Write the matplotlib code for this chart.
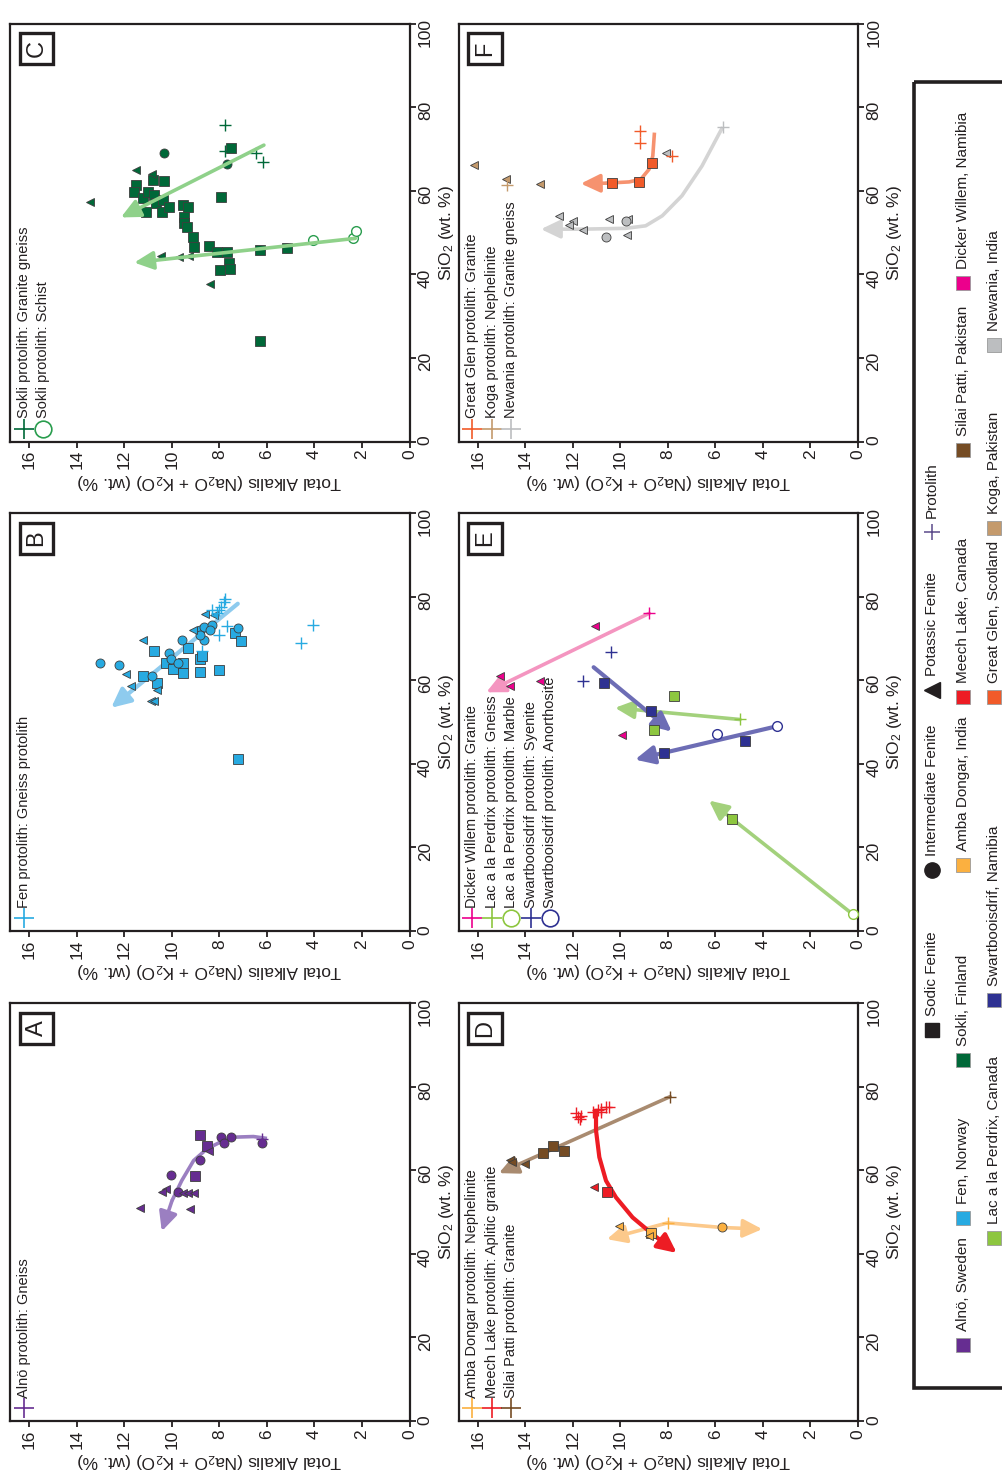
import numpy as np
import matplotlib
matplotlib.use("Agg")
import matplotlib.pyplot as plt
from matplotlib.patches import Rectangle

plt.rcParams['font.family'] = ['Liberation Sans', 'DejaVu Sans']
plt.rcParams['mathtext.fontset'] = 'custom'
plt.rcParams['mathtext.rm'] = 'Liberation Sans'
plt.rcParams['mathtext.it'] = 'Liberation Sans:italic'
plt.rcParams['mathtext.bf'] = 'Liberation Sans:bold'

# (total alkalis, SiO2) pairs
# A - Alno
alno_sodic = [(8.84, 68.5), (8.53, 65.7), (9.02, 58.7)]
alno_inter = [(7.94, 68.0), (7.52, 68.0), (7.83, 66.5), (6.22, 66.6), (8.84, 62.5), (10.05, 58.9), (9.75, 54.9)]
alno_potassic = [(8.44, 64.5), (11.34, 51.0), (9.24, 50.7), (10.26, 55.4), (10.44, 54.7), (9.54, 54.6), (9.33, 54.6), (9.07, 54.6)]
alno_protolith = [(6.19, 67.5)]
alno_trend = [(6.0, 67.6), (6.57, 68.05), (7.41, 67.9), (7.97, 66.7), (8.53, 65.1), (9.09, 62.3), (9.59, 57.5), (10.0, 52.7), (10.43, 45.4)]

# B - Fen
fen_sodic = [(10.74, 67.0), (11.23, 61.1), (10.64, 59.3), (10.26, 64.1), (9.94, 62.7), (9.54, 64.1), (9.54, 61.7), (9.31, 67.7),
             (8.84, 62.0), (8.81, 65.1), (8.74, 65.9), (8.01, 62.5), (7.33, 71.2), (7.10, 69.3), (7.21, 41.1)]
fen_inter = [(13.05, 64.2), (12.21, 63.7), (10.85, 61.1), (10.12, 66.5), (10.04, 65.1), (9.73, 64.1), (9.59, 69.6), (8.84, 72.0),
             (8.65, 72.8), (8.32, 73.1), (8.39, 71.9), (8.65, 69.5), (8.81, 70.7), (7.24, 72.5)]
fen_potassic = [(11.23, 69.5), (11.94, 61.5), (11.73, 58.5), (10.64, 57.7), (10.89, 55.0), (10.74, 55.0), (9.12, 72.1), (8.62, 75.9), (8.25, 75.5)]
fen_protolith = [(7.76, 79.5), (7.83, 78.7), (7.94, 77.5), (8.04, 76.7), (8.11, 76.0), (8.32, 76.8), (7.69, 72.9), (8.01, 70.7),
                 (8.74, 67.1), (4.58, 68.9), (4.08, 73.2)]
fen_trend = [(7.23, 78.3), (12.56, 53.4)]

# C - Sokli
sokli_sodic = [(11.52, 61.4), (11.61, 59.7), (11.23, 58.2), (11.02, 59.7), (10.77, 59.0), (10.81, 62.6), (10.35, 62.3), (11.10, 54.9),
               (10.68, 57.0), (10.39, 57.8), (10.43, 54.9), (10.13, 56.1), (9.54, 56.6), (9.33, 56.1), (9.50, 53.7), (9.50, 52.3),
               (9.37, 51.3), (9.12, 48.9), (9.08, 46.5), (8.45, 46.8), (8.11, 45.3), (7.69, 45.3), (7.95, 58.5), (7.53, 70.2),
               (7.60, 42.6), (7.57, 41.2), (7.99, 41.0), (6.30, 45.8), (5.15, 46.2), (6.31, 24.1)]
sokli_inter = [(10.34, 68.9), (7.69, 66.3)]
sokli_potassic = [(11.52, 64.9), (10.85, 64.0), (10.47, 44.4), (9.71, 44.2), (9.29, 44.4), (13.44, 57.3), (8.40, 37.6)]
sokli_granite = [(7.77, 75.6), (7.78, 69.6), (6.45, 68.9), (6.16, 66.9)]
sokli_schist = [(4.06, 48.2), (2.38, 48.6), (2.24, 50.4)]
sokli_trend_granite = [(6.13, 70.9), (12.15, 53.6)]
sokli_trend_schist = [(2.28, 48.6), (11.59, 42.8)]

# D - Amba Dongar, Meech Lake, Silai Patti
amba_protolith = [(8.02, 47.4)]
amba_inter = [(5.74, 46.3)]
amba_sodic = [(8.72, 45.0)]
amba_potassic = [(10.05, 46.6), (8.82, 44.3)]
amba_trend_1 = [(8.02, 47.4), (5.74, 46.3), (4.03, 45.9)]
amba_trend_2 = [(8.02, 47.4), (10.57, 43.5)]
meech_protolith = [(11.87, 73.6), (11.80, 72.8), (11.70, 72.3), (11.66, 73.0), (11.17, 73.9), (10.96, 74.3), (10.82, 74.7),
                   (10.61, 75.1), (10.47, 75.1), (10.82, 73.9)]
meech_sodic = [(10.57, 54.9)]
meech_potassic = [(11.13, 55.9)]
meech_trend = [(11.03, 74.7), (11.03, 69.5), (10.89, 63.1), (10.61, 57.5), (10.19, 53.5), (9.49, 48.7), (8.65, 44.7), (7.63, 40.2)]
silai_protolith = [(7.91, 77.6)]
silai_sodic = [(13.27, 64.1), (12.85, 65.9), (12.36, 64.5)]
silai_potassic = [(14.67, 62.5), (14.55, 61.9), (14.04, 61.5)]
silai_trend = [(7.91, 77.6), (15.12, 59.3)]

# E - Dicker Willem, Lac a la Perdrix, Swartbooisdrif
dicker_protolith = [(8.79, 76.0)]
dicker_potassic = [(11.07, 72.9), (15.09, 60.9), (14.67, 58.5), (13.38, 59.9), (9.94, 47.0)]
dicker_trend = [(8.79, 76.0), (15.65, 57.1)]
lac_gneiss = [(4.97, 50.6)]
lac_marble = [(0.22, 4.0)]
lac_sodic = [(7.73, 56.2), (8.59, 48.1), (5.32, 26.8)]
lac_trend_gneiss = [(4.97, 50.6), (10.23, 53.4)]
lac_trend_marble = [(0.22, 4.0), (6.27, 31.2)]
swart_syenite = [(10.40, 66.7), (11.59, 59.7)]
swart_anorthosite = [(3.40, 49.0), (5.92, 47.1)]
swart_sodic = [(10.68, 59.4), (8.72, 52.6), (8.16, 42.7), (4.76, 45.5)]
swart_trend_syenite = [(11.13, 63.1), (7.84, 47.7)]
swart_trend_anorthosite = [(3.40, 49.0), (9.39, 41.0)]

# F - Great Glen, Koga, Newania
glen_protolith = [(9.18, 74.3), (9.18, 71.3), (7.85, 68.3)]
glen_sodic = [(8.69, 66.7), (9.22, 62.2), (10.34, 61.9)]
glen_trend = [(8.57, 73.9), (8.64, 68.3), (8.80, 65.1), (9.15, 62.7), (9.64, 62.1), (10.62, 61.8), (11.67, 61.7)]
koga_protolith = [(14.76, 61.4)]
koga_potassic = [(16.15, 66.2), (14.81, 62.7), (13.39, 61.5)]
newania_protolith = [(5.70, 75.2)]
newania_potassic = [(8.10, 69.1), (12.60, 54.0), (12.02, 52.8), (12.16, 51.9), (11.57, 50.6), (10.48, 53.2), (9.68, 53.2), (9.71, 49.5)]
newania_inter = [(10.59, 49.0), (9.78, 52.8)]
newania_trend = [(5.70, 75.2), (6.57, 65.9), (7.41, 58.8), (8.24, 54.0), (8.94, 51.6), (9.78, 51.0), (11.60, 50.8), (13.35, 50.8)]

alk_ticks = list(range(0, 17, 2))
si_ticks = list(range(0, 101, 20))

# colours
purple, purple_l = '#662d91', '#9b7fc1'
fen, fen_l = '#27aae1', '#8ecbee'
sokli, sokli_l, sokli_o = '#006838', '#8fd18a', '#2a9d4e'
amba, amba_l = '#fbb040', '#fcc98b'
meech = '#ed1c24'
silai, silai_l = '#754c24', '#a98b70'
dicker, dicker_l = '#ec008c', '#f495c0'
lac, lac_l = '#8dc63f', '#a3d17c'
swart, swart_l = '#2e3192', '#6d6db5'
glen, glen_l = '#f15a29', '#f6926f'
koga = '#c49a6c'
newania, newania_l = '#bcbec0', '#d4d4d4'
black = '#231f20'
edge = '#3d3d3d'

W, H = 1002, 1475
fig = plt.figure(figsize=(W / 100, H / 100), dpi=100)


def rect(left, top, w=399.5, h=418):
    return [left / W, 1 - (top + h) / H, w / W, h / H]


def pts(ax, data, marker, color, ms=6.5, z=3):
    d = np.array(data)
    ax.plot(d[:, 0], d[:, 1], ls='none', marker=marker, ms=ms, mfc=color, mec=edge, mew=0.6, zorder=z)


def plus(ax, data, color, ms=9):
    d = np.array(data)
    ax.plot(d[:, 0], d[:, 1], ls='none', marker='+', ms=ms, mew=1.0, color=color, zorder=3)


def ring(ax, data, color, ms=7):
    d = np.array(data)
    ax.plot(d[:, 0], d[:, 1], ls='none', marker='o', ms=ms, mfc='white', mec=color, mew=1.0, zorder=3)


def trend(ax, data, color, lw=2.6, z=2):
    d = np.array(data)
    if len(d) > 2:
        ax.plot(d[:-1, 0], d[:-1, 1], color=color, lw=lw, solid_capstyle='butt', solid_joinstyle='round', zorder=z)
    ax.annotate('', xy=d[-1], xytext=d[-2],
                arrowprops=dict(arrowstyle='-|>,head_length=1.15,head_width=0.55', color=color, lw=lw,
                                shrinkA=0, shrinkB=0, mutation_scale=10), zorder=z)


def setup(ax, letter, entries):
    ax.set_xlim(16.82, 0)
    ax.set_ylim(0, 100)
    ax.set_xticks(alk_ticks)
    ax.set_yticks(si_ticks)
    ax.yaxis.tick_right()
    ax.yaxis.set_label_position('right')
    ax.tick_params(axis='both', direction='out', length=4, width=1.3, labelsize=12.5, pad=2, colors=black)
    ax.tick_params(axis='x', labelrotation=90)
    ax.tick_params(axis='y', labelrotation=90)
    for s in ax.spines.values():
        s.set_linewidth(1.6)
        s.set_color(black)
    ax.set_xlabel(r'Total Alkalis (Na$_2$O + K$_2$O) (wt. %)', rotation=180, fontsize=12.5, labelpad=2, color=black)
    ax.set_ylabel(r'SiO$_2$ (wt. %)', rotation=90, fontsize=12.5, labelpad=3, color=black)
    ax.add_patch(Rectangle((0.025, 0.902), 0.083, 0.075, transform=ax.transAxes, fill=False, lw=2.4,
                           edgecolor=black, zorder=5))
    ax.text(0.0665, 0.9395, letter, transform=ax.transAxes, rotation=90, ha='center', va='center',
            fontsize=17, color=black)
    for i, (label, marker, color) in enumerate(entries):
        x = 0.034 + i * 0.049
        if marker == '+':
            ax.plot([x], [0.031], marker='+', ms=14, mew=1.2, color=color, transform=ax.transAxes, clip_on=False)
        else:
            ax.plot([x], [0.031], marker='o', ms=12, mfc='none', mec=color, mew=1.2, transform=ax.transAxes,
                    clip_on=False)
        ax.text(x, 0.056, label, transform=ax.transAxes, rotation=90, ha='center', va='bottom',
                fontsize=10.5, color=black)


axA = fig.add_axes(rect(10, 1003))
axB = fig.add_axes(rect(10, 513))
axC = fig.add_axes(rect(10, 23.5))
axD = fig.add_axes(rect(458.5, 1003))
axE = fig.add_axes(rect(458.5, 513))
axF = fig.add_axes(rect(458.5, 23.5))

# A
trend(axA, alno_trend, purple_l)
pts(axA, alno_sodic, 's', purple)
pts(axA, alno_inter, 'o', purple)
pts(axA, alno_potassic, '<', purple, ms=6)
plus(axA, alno_protolith, purple)
setup(axA, 'A', [('Alnö protolith: Gneiss', '+', purple)])

# B
trend(axB, fen_trend, fen_l, lw=3)
pts(axB, fen_sodic, 's', fen)
pts(axB, fen_inter, 'o', fen)
pts(axB, fen_potassic, '<', fen, ms=6)
plus(axB, fen_protolith, fen)
setup(axB, 'B', [('Fen protolith: Gneiss protolith', '+', fen)])

# C
pts(axC, sokli_sodic, 's', sokli)
pts(axC, sokli_inter, 'o', sokli)
pts(axC, sokli_potassic, '<', sokli, ms=6)
plus(axC, sokli_granite, sokli)
ring(axC, sokli_schist, sokli_o)
trend(axC, sokli_trend_granite, sokli_l, z=4)
trend(axC, sokli_trend_schist, sokli_l, z=4)
setup(axC, 'C', [('Sokli protolith: Granite gneiss', '+', sokli), ('Sokli protolith: Schist', 'o', sokli_o)])

# D
trend(axD, silai_trend, silai_l)
trend(axD, amba_trend_1, amba_l)
trend(axD, amba_trend_2, amba_l)
trend(axD, meech_trend, meech, lw=3)
pts(axD, silai_sodic, 's', silai)
pts(axD, silai_potassic, '<', silai, ms=6)
plus(axD, silai_protolith, silai)
pts(axD, meech_sodic, 's', meech)
pts(axD, meech_potassic, '<', meech, ms=6)
plus(axD, meech_protolith, meech)
pts(axD, amba_sodic, 's', amba)
pts(axD, amba_inter, 'o', amba)
pts(axD, amba_potassic, '<', amba, ms=6)
plus(axD, amba_protolith, amba)
setup(axD, 'D', [('Amba Dongar protolith: Nephelinite', '+', amba),
                 ('Meech Lake protolith: Aplitic granite', '+', meech),
                 ('Silai Patti protolith: Granite', '+', silai)])

# E
trend(axE, dicker_trend, dicker_l)
trend(axE, lac_trend_gneiss, lac_l)
trend(axE, lac_trend_marble, lac_l)
trend(axE, swart_trend_syenite, swart_l, lw=3)
trend(axE, swart_trend_anorthosite, swart_l, lw=3)
pts(axE, dicker_potassic, '<', dicker, ms=6)
plus(axE, dicker_protolith, dicker)
pts(axE, lac_sodic, 's', lac)
plus(axE, lac_gneiss, lac)
ring(axE, lac_marble, lac)
pts(axE, swart_sodic, 's', swart)
plus(axE, swart_syenite, swart)
ring(axE, swart_anorthosite, swart)
setup(axE, 'E', [('Dicker Willem protolith: Granite', '+', dicker),
                 ('Lac a la Perdrix protolith: Gneiss', '+', lac),
                 ('Lac a la Perdrix protolith: Marble', 'o', lac),
                 ('Swartbooisdrif protolith: Syenite', '+', swart),
                 ('Swartbooisdrif protolith: Anorthosite', 'o', swart)])

# F
trend(axF, newania_trend, newania_l)
trend(axF, glen_trend, glen_l)
pts(axF, newania_potassic, '<', newania, ms=6)
pts(axF, newania_inter, 'o', newania)
plus(axF, newania_protolith, newania)
pts(axF, koga_potassic, '<', koga, ms=6)
plus(axF, koga_protolith, koga)
pts(axF, glen_sodic, 's', glen)
plus(axF, glen_protolith, glen)
setup(axF, 'F', [('Great Glen protolith: Granite', '+', glen),
                 ('Koga protolith: Nephelinite', '+', koga),
                 ('Newania protolith: Granite gneiss', '+', newania)])

# figure legend (pixel coordinates of the page)
leg = fig.add_axes([0, 0, 1, 1])
leg.set_xlim(0, W)
leg.set_ylim(H, 0)
leg.axis('off')
leg.add_patch(Rectangle((914, 82), 120, 1306, fill=False, lw=2.6, edgecolor=black, clip_on=False))

type_labels = ['Sodic Fenite', 'Intermediate Fenite', 'Potassic Fenite', 'Protolith']
type_markers = ['s', 'o', '<', '+']
type_pos = [1030, 870, 690, 532]
for lab, mk, y in zip(type_labels, type_markers, type_pos):
    if mk == '+':
        leg.plot(932, y, marker='+', ms=11, mew=1.1, color='#5b4a8a')
    else:
        leg.plot(932, y, marker=mk, ms=11 if mk != 's' else 10.5, color=black, mec=black)
    leg.text(932, y - 14, lab, rotation=90, ha='center', va='bottom', fontsize=11, color=black)

loc_labels = ['Alnö, Sweden', 'Fen, Norway', 'Sokli, Finland', 'Amba Dongar, India', 'Meech Lake, Canada',
              'Silai Patti, Pakistan', 'Dicker Willem, Namibia',
              'Lac a la Perdrix, Canada', 'Swartbooisdrif, Namibia', 'Great Glen, Scotland', 'Koga, Pakistan',
              'Newania, India']
loc_colors = [purple, fen, sokli, amba, meech, silai, dicker, lac, swart, glen, koga, newania]
loc_x = [963] * 7 + [994] * 5
loc_pos = [1345, 1218, 1060, 865, 697, 450, 283, 1238, 1000, 697, 528, 345]
for lab, c, x, y in zip(loc_labels, loc_colors, loc_x, loc_pos):
    leg.plot(x, y, marker='s', ms=10.5, mfc=c, mec='#9a9a9a', mew=0.6)
    leg.text(x, y - 14, lab, rotation=90, ha='center', va='bottom', fontsize=11, color=black)

fig.savefig('out.png', dpi=100)
